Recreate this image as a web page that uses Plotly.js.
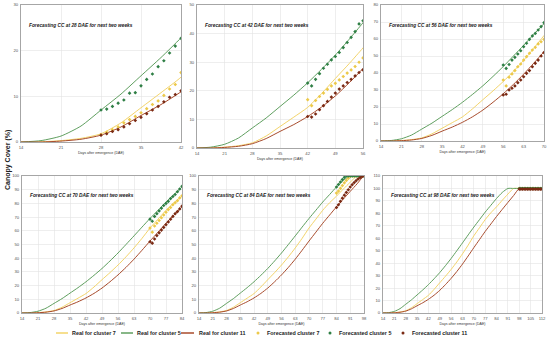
<!DOCTYPE html>
<html><head><meta charset="utf-8">
<script src="https://cdn.plot.ly/plotly-3.0.1.min.js"></script>
<style>html,body{margin:0;padding:0;background:#fff}#chart{width:550px;height:352px}</style>
</head><body><div id="chart"></div>
<script>
// ---- Data ----
const dae = [14,17.5,21,24.5,28,31.5,35,38.5,42,45.5,49,52.5,56,59.5,63,66.5,70,73.5,77,80.5,84,87.5,91,94.5,98,101.5,105,108.5,112];
const realCluster7  = [0,0.05,0.3,0.8,1.8,4.2,7.5,10.8,14.2,19,24.3,29.5,35,41,47.5,54.5,62,68.5,75,80.5,85.3,90.5,95.5,100,100,100,100,100,100];
const realCluster5  = [0,0.3,1.3,3.5,7.0,10.5,14.5,18.5,22.8,27.5,32.5,38,43.8,50,56.3,62.7,69,75,81,86.5,92,96.8,100,100,100,100,100,100,100];
const realCluster11 = [0,0,0.2,0.6,1.5,3.3,5.8,8.2,11,14.3,18.2,22.8,27.8,33.3,39.3,45.8,52.5,59,65.5,71.5,77.5,83.2,88.8,94.3,100,100,100,100,100];

const forecastStartDAE = [28,42,56,70,84,98];
const panelXMax = [42,56,70,84,98,112];
const panelYMax = [30,50,80,100,100,110];

const fc28_c7  = [1.6,2.1,2.7,3.3,4.2,4.9,5.6,6.4,7.3,8.2,9.0,10.2,11.6,12.6,15.2];
const fc28_c5  = [7.0,7.2,7.8,8.5,9.2,10.7,10.8,12.3,13.7,14.9,16.5,17.8,19.5,21.0,22.7];
const fc28_c11 = [1.5,1.8,2.3,2.7,3.3,4.0,4.7,5.4,6.2,7.0,7.8,8.8,9.8,10.4,11.2];

const fc42_c7  = [16.9,14.8,16.6,18.0,19.2,20.5,21.7,22.6,23.8,25.0,26.2,27.3,28.5,30.0,31.5];
const fc42_c5  = [22.7,21.7,24.0,26.0,27.9,29.3,30.8,32.0,33.4,35.1,36.9,38.7,40.7,43.4,44.5];
const fc42_c11 = [11.0,10.8,11.9,13.4,14.8,16.3,17.8,19.2,20.6,21.7,22.9,24.0,25.2,26.4,27.3];

const fc56_c7  = [35.9,32.4,37.5,39.4,41.4,43.7,45.3,47.6,49.6,51.6,53.5,55.1,57.1,58.4,59.8];
const fc56_c5  = [44.7,42.7,45.0,47.6,49.2,51.2,53.1,55.5,57.5,59.8,61.8,63.3,65.3,67.3,69.6];
const fc56_c11 = [27.1,27.5,30.0,31.0,32.4,34.3,35.9,37.8,39.8,41.4,43.7,45.7,47.6,50.0,52.0];

const fc70_c7  = [62,59,63.5,65.5,67.5,69.5,71.5,73.5,75.5,77,79,80.5,82,84,85.5];
const fc70_c5  = [68.5,67,70.5,72.5,74.5,76.5,78.5,80,81.5,83.5,85,86.5,88.5,90.5,92.5];
const fc70_c11 = [52,51,54,56.5,58.5,60.5,62.5,64.5,66.5,68.5,70.5,72.5,74,76,78];

const fc84_c7  = [87.5,89,91,93,95,96.8,98.3,99.6,100,100,100,100,100,100,100];
const fc84_c5  = [92,93.8,95.6,97.4,99,100,100,100,100,100,100,100,100,100,100];
const fc84_c11 = [77,79,81.5,83.8,86,88,90,92,93.7,95.2,96.6,97.8,98.8,99.6,100];

const fc98_c7  = [100,100,100,100,100,100,100,100,100,100,100,100,100,100,100];
const fc98_c5  = [100,100,100,100,100,100,100,100,100,100,100,100,100,100,100];
const fc98_c11 = [99.5,99.5,99.5,99.5,99.5,99.5,99.5,99.5,99.5,99.5,99.5,99.5,99.5,99.5,99.5];

const forecasts7  = [fc28_c7, fc42_c7, fc56_c7, fc70_c7, fc84_c7, fc98_c7];
const forecasts5  = [fc28_c5, fc42_c5, fc56_c5, fc70_c5, fc84_c5, fc98_c5];
const forecasts11 = [fc28_c11, fc42_c11, fc56_c11, fc70_c11, fc84_c11, fc98_c11];

const seriesNames = ['Real for cluster 7','Real for cluster 5','Real for cluster 11','Forecasted cluster 7','Forecasted cluster 5','Forecasted cluster 11'];

// ---- Styles ----
const W = 550, H = 352;
const colLine7 = '#f3d46a', colLine5 = '#5f9f5f', colLine11 = '#a84b2c';
const colMk7 = '#ecc94a', colMk5 = '#2f7f45', colMk11 = '#7a2a14';
const FONT = '"Liberation Sans",Arial,sans-serif';

// panel boxes in px: [left, top, right, bottom]
const boxes = [
  [21,5,181,142],[197,5,363,148],[381,5,544,141],
  [22,176,182,313],[199,176,364,313],[383,176,542,313]
];
const px = v => v / W, py = v => 1 - v / H;

const traces = [];
const layout = {
  width: W, height: H, margin: {l:0,r:0,t:0,b:0},
  paper_bgcolor: '#fff', plot_bgcolor: '#fff',
  showlegend: false, font: {family: FONT, color: '#444'},
  annotations: [], shapes: []
};

for (let i = 0; i < 6; i++) {
  const n = i === 0 ? '' : String(i + 1);
  const xa = 'x' + n, ya = 'y' + n;
  const b = boxes[i];
  const t0 = forecastStartDAE[i];
  const fx = forecasts7[i].map((_, k) => t0 + k);
  traces.push({x: dae, y: realCluster7, xaxis: xa, yaxis: ya, mode: 'lines', name: seriesNames[0],
               line: {color: colLine7, width: 1, shape: 'spline', smoothing: 0.6}, hoverinfo: 'skip'});
  traces.push({x: dae, y: realCluster5, xaxis: xa, yaxis: ya, mode: 'lines', name: seriesNames[1],
               line: {color: colLine5, width: 1, shape: 'spline', smoothing: 0.6}, hoverinfo: 'skip'});
  traces.push({x: dae, y: realCluster11, xaxis: xa, yaxis: ya, mode: 'lines', name: seriesNames[2],
               line: {color: colLine11, width: 1, shape: 'spline', smoothing: 0.6}, hoverinfo: 'skip'});
  traces.push({x: fx, y: forecasts7[i], xaxis: xa, yaxis: ya, mode: 'markers', name: seriesNames[3],
               marker: {color: colMk7, size: 2.8, symbol: 'diamond'}});
  traces.push({x: fx, y: forecasts5[i], xaxis: xa, yaxis: ya, mode: 'markers', name: seriesNames[4],
               marker: {color: colMk5, size: 2.8, symbol: 'diamond'}});
  traces.push({x: fx, y: forecasts11[i], xaxis: xa, yaxis: ya, mode: 'markers', name: seriesNames[5],
               marker: {color: colMk11, size: 2.8, symbol: 'diamond'}});

  layout['xaxis' + n] = {
    domain: [px(b[0]), px(b[2])], anchor: ya, range: [14, panelXMax[i]],
    tick0: 14, dtick: 7, showgrid: true, gridcolor: '#e3e3e3', gridwidth: 0.6,
    showline: true, linecolor: '#a6a6a6', linewidth: 1, mirror: true, zeroline: false,
    ticks: '', tickfont: {size: 4.2, color: '#555', family: FONT}, ticklabelstandoff: 1,
    title: {text: 'Days after emergence (DAE)', font: {size: 3.6, color: '#333', family: FONT}, standoff: 2},
    automargin: false, fixedrange: true
  };
  layout['yaxis' + n] = {
    domain: [py(b[3]), py(b[1])], anchor: xa, range: [0, panelYMax[i]],
    dtick: 10, showgrid: true, gridcolor: '#e3e3e3', gridwidth: 0.6,
    showline: true, linecolor: '#a6a6a6', linewidth: 1, mirror: true, zeroline: false,
    ticks: '', tickfont: {size: 4.2, color: '#555', family: FONT}, ticklabelstandoff: 1,
    automargin: false, fixedrange: true
  };
  layout.annotations.push({
    xref: 'paper', yref: 'paper', x: px(b[0] + 6), y: py(b[1] + 20), xanchor: 'left', yanchor: 'middle',
    text: '<b><i>Forecasting CC at ' + t0 + ' DAE for next two weeks</i></b>', showarrow: false,
    font: {size: 4.8, color: '#222', family: FONT}
  });
}

// y-axis title shared
layout.annotations.push({
  xref: 'paper', yref: 'paper', x: px(8), y: py(160), xanchor: 'center', yanchor: 'middle',
  text: '<b>Canopy Cover (%)</b>', textangle: -90, showarrow: false,
  font: {size: 7, color: '#222', family: FONT}
});

// legend (drawn row at bottom)
const legY = 333;
const legLines = [[56,68,colLine7,70],[121,133,colLine5,135],[181,194,colLine11,197]];
legLines.forEach((l, k) => {
  layout.shapes.push({type: 'line', xref: 'paper', yref: 'paper', x0: px(l[0]), x1: px(l[1]), y0: py(legY), y1: py(legY),
                      line: {color: l[2], width: 1.5}});
  layout.annotations.push({xref: 'paper', yref: 'paper', x: px(l[3]), y: py(legY), xanchor: 'left', yanchor: 'middle',
    text: '<b>' + seriesNames[k] + '</b>', showarrow: false, font: {size: 5.4, color: '#222', family: FONT}});
});
const legMk = [[258,colMk7,265],[330,colMk5,337],[403,colMk11,410]];
legMk.forEach((m, k) => {
  layout.shapes.push({type: 'circle', xref: 'paper', yref: 'paper', x0: px(m[0]-1.5), x1: px(m[0]+1.5), y0: py(legY+1.5), y1: py(legY-1.5),
                      fillcolor: m[1], line: {width: 0}});
  layout.annotations.push({xref: 'paper', yref: 'paper', x: px(m[2]), y: py(legY), xanchor: 'left', yanchor: 'middle',
    text: '<b>' + seriesNames[k + 3] + '</b>', showarrow: false, font: {size: 5.4, color: '#222', family: FONT}});
});

Plotly.newPlot('chart', traces, layout, {staticPlot: true, displayModeBar: false});
</script>
</body></html>
